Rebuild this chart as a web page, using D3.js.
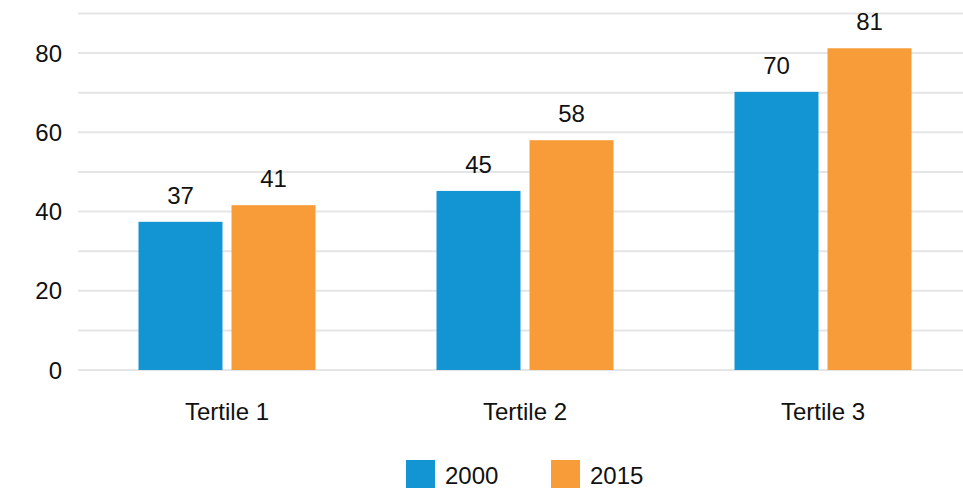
<!DOCTYPE html>
<html>
<head>
<meta charset="utf-8">
<script src="https://cdn.jsdelivr.net/npm/d3@7"></script>
<style>
  body { margin: 0; background: #fff; }
  text { font-family: "Liberation Sans", Arial, sans-serif; fill: #111; }
</style>
</head>
<body>
<svg width="963" height="488"></svg>
<script>
// data
var categories = ["Tertile 1", "Tertile 2", "Tertile 3"];
var series = ["2000", "2015"];
var values2000 = [37.4, 45.2, 70.2];
var values2015 = [41.6, 58.0, 81.2];
var yTicks = [0, 20, 40, 60, 80];
var colors = ["#1495d3", "#f79c39"];

const MARGIN = { TOP: 0, LEFT: 78 };
var width = 894, height = 370;

var svg = d3.select("svg");

var x = d3.scaleBand()
    .domain(categories)
    .range([MARGIN.LEFT, MARGIN.LEFT + width])
    .padding(0);

var xSub = d3.scaleBand()
    .domain(series)
    .range([0, 177])
    .paddingInner(0.097);

var y = d3.scaleLinear()
    .domain([0, 90])
    .range([370, 13.4]);

// gridlines every 10
svg.append("g")
    .selectAll("line")
    .data(d3.range(0, 100, 10))
    .join("line")
    .attr("x1", MARGIN.LEFT)
    .attr("x2", 963)
    .attr("y1", d => y(d))
    .attr("y2", d => y(d))
    .attr("stroke", "#e5e5e5")
    .attr("stroke-width", 2);

// y labels
svg.append("g")
    .selectAll("text")
    .data(yTicks)
    .join("text")
    .attr("x", 62)
    .attr("y", d => y(d))
    .attr("dy", "0.36em")
    .attr("text-anchor", "end")
    .style("font-size", "24px")
    .text(d => d);

var rows = categories.map((c, i) => ({
  cat: c,
  vals: [
    { s: series[0], v: values2000[i], color: colors[0] },
    { s: series[1], v: values2015[i], color: colors[1] }
  ]
}));

var groups = svg.append("g")
    .selectAll("g")
    .data(rows)
    .join("g")
    .attr("transform", d => "translate(" + (x(d.cat) + x.bandwidth() / 2 - 88.5) + ",0)");

groups.selectAll("rect")
    .data(d => d.vals)
    .join("rect")
    .attr("x", d => xSub(d.s))
    .attr("width", xSub.bandwidth())
    .attr("y", d => y(d.v))
    .attr("height", d => y(0) - y(d.v))
    .attr("fill", d => d.color);

groups.selectAll("text")
    .data(d => d.vals)
    .join("text")
    .attr("x", d => xSub(d.s) + xSub.bandwidth() / 2)
    .attr("y", d => y(d.v) - 18)
    .attr("text-anchor", "middle")
    .style("font-size", "24px")
    .text(d => Math.trunc(d.v));

// category labels
svg.append("g")
    .selectAll("text")
    .data(categories)
    .join("text")
    .attr("x", d => x(d) + x.bandwidth() / 2)
    .attr("y", 420)
    .attr("text-anchor", "middle")
    .style("font-size", "24px")
    .text(d => d);

// legend
var legend = svg.append("g")
    .selectAll("g")
    .data(series)
    .join("g")
    .attr("transform", (d, i) => "translate(" + (406 + i * 145) + ",460)");

legend.append("rect")
    .attr("width", 29)
    .attr("height", 28)
    .attr("fill", (d, i) => colors[i]);

legend.append("text")
    .attr("x", 39)
    .attr("y", 24)
    .style("font-size", "24px")
    .text(d => d);
</script>
</body>
</html>
